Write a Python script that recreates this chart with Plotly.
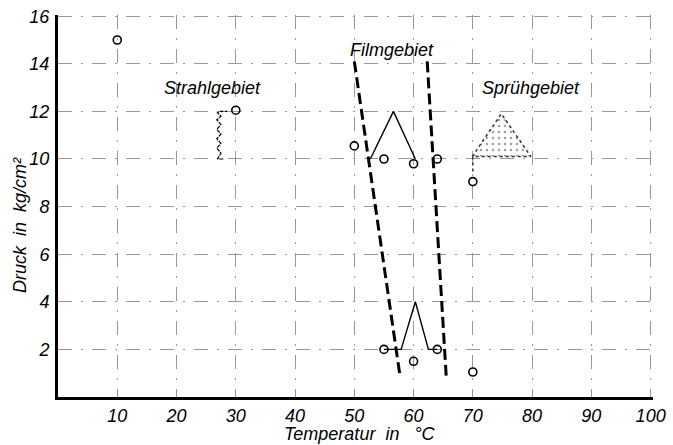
import plotly.graph_objects as go

# --- data ---
temp_pts = [10, 30, 50, 55, 60, 64, 70, 55, 60, 64, 70]
druck_pts = [15.0, 12.05, 10.55, 10.0, 9.8, 10.0, 9.05, 2.0, 1.5, 2.0, 1.05]

film_left_x = [50.0, 57.7]
film_left_y = [14.1, 0.9]
film_right_x = [62.3, 65.5]
film_right_y = [14.1, 0.9]

tri_upper_x = [52.7, 56.6, 60.3]
tri_upper_y = [10.0, 12.0, 10.0]
tri_lower_x = [55.0, 57.9, 60.3, 62.5, 64.0]
tri_lower_y = [2.0, 2.0, 4.0, 2.0, 2.0]

spray_x = [69.9, 74.8, 79.8, 69.9]
spray_y = [10.1, 11.9, 10.1, 10.1]
spray_stem_x = [70.0, 70.0]
spray_stem_y = [10.1, 9.35]

strahl_x = [27.9, 26.9, 27.5, 26.8, 27.5, 26.8, 27.5, 26.8, 27.5, 26.8, 27.5, 26.9, 27.3, 28.6]
strahl_y = [10.0, 10.0, 10.25, 10.45, 10.65, 10.85, 11.05, 11.25, 11.45, 11.65, 11.8, 11.95, 12.0, 12.0]

x_ticks = [10, 20, 30, 40, 50, 60, 70, 80, 90, 100]
y_ticks = [2, 4, 6, 8, 10, 12, 14, 16]

labels = ["Strahlgebiet", "Filmgebiet", "Sprühgebiet"]
label_x = [26.1, 56.4, 79.8]
label_y = [13.0, 14.6, 13.0]

FONT = "Liberation Sans"
fig = go.Figure()

fig.add_trace(go.Scatter(x=film_left_x, y=film_left_y, mode="lines",
                         line=dict(color="black", width=3, dash="11px,5px")))
fig.add_trace(go.Scatter(x=film_right_x, y=film_right_y, mode="lines",
                         line=dict(color="black", width=3, dash="11px,5px")))
fig.add_trace(go.Scatter(x=tri_upper_x, y=tri_upper_y, mode="lines",
                         line=dict(color="black", width=1.4)))
fig.add_trace(go.Scatter(x=tri_lower_x, y=tri_lower_y, mode="lines",
                         line=dict(color="black", width=1.4)))
fig.add_trace(go.Scatter(x=spray_x, y=spray_y, mode="lines", fill="toself",
                         fillpattern=dict(shape=".", fgcolor="#444", bgcolor="rgba(0,0,0,0)",
                                          size=6, solidity=0.15),
                         line=dict(color="#333", width=1.5, dash="dot")))
fig.add_trace(go.Scatter(x=spray_stem_x, y=spray_stem_y, mode="lines",
                         line=dict(color="#333", width=1.5, dash="dot")))
fig.add_trace(go.Scatter(x=strahl_x, y=strahl_y, mode="lines",
                         line=dict(color="black", width=1.2, dash="4px,1px")))
fig.add_trace(go.Scatter(x=temp_pts, y=druck_pts, mode="markers",
                         marker=dict(symbol="circle-open", size=8, color="black",
                                     line=dict(width=1.6, color="black"))))

for t, xx, yy in zip(labels, label_x, label_y):
    fig.add_annotation(x=xx, y=yy, text=t, showarrow=False,
                       font=dict(family=FONT, size=18, color="black", style="italic"))

fig.add_annotation(xref="paper", yref="paper", x=0.507, y=-0.098, yanchor="middle",
                   text="Temperatur  in   °C", showarrow=False,
                   font=dict(family=FONT, size=18, color="black", style="italic"))
fig.add_annotation(xref="paper", yref="paper", x=-0.064, y=0.45, xanchor="center",
                   text="Druck  in  kg/cm²", showarrow=False, textangle=-90,
                   font=dict(family=FONT, size=18, color="black", style="italic"))

axis_common = dict(showline=True, linecolor="black", linewidth=3, ticks="",
                   showgrid=True, gridcolor="#999999", gridwidth=1,
                   griddash="14px,9px,2px,9px", zeroline=False, automargin=False,
                   ticklabeloverflow="allow",
                   tickfont=dict(family=FONT, size=18, color="black", style="italic"))

fig.update_xaxes(range=[0, 100.4], tickvals=x_ticks, ticktext=[str(v) for v in x_ticks],
                 **axis_common)
fig.update_yaxes(range=[0, 16.05], tickvals=y_ticks, ticktext=[str(v) for v in y_ticks],
                 ticklabelstandoff=2, **axis_common)

fig.update_layout(width=673, height=445, showlegend=False,
                  margin=dict(l=58, r=20, t=15, b=48, autoexpand=False),
                  paper_bgcolor="white", plot_bgcolor="white")

fig.write_html("out.html", config={"displayModeBar": False},
               post_script="document.body.style.margin='0';document.body.style.overflow='hidden';")
